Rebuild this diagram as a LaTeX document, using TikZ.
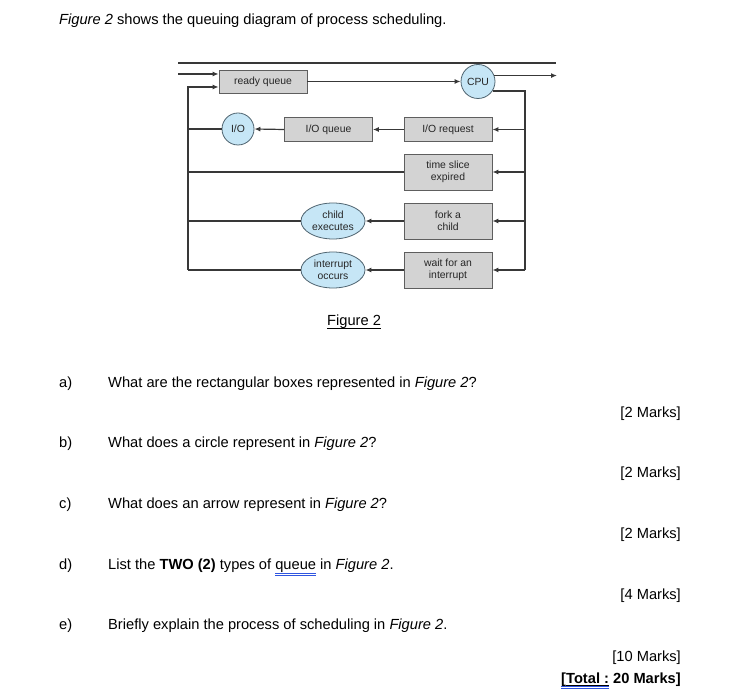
\documentclass[tikz,border=0pt]{standalone}
\usepackage{fontspec}
\setmainfont{Liberation Sans}
\usetikzlibrary{arrows.meta,shapes.geometric}
\definecolor{linec}{HTML}{383838}
\definecolor{boxfill}{HTML}{D3D3D3}
\definecolor{boxline}{HTML}{5E5E5E}
\definecolor{circfill}{HTML}{C6E6F6}
\definecolor{circline}{HTML}{4F6470}
\definecolor{spellblue}{HTML}{2F55E0}
\newcommand{\spellul}[1]{\setbox0\hbox{#1}\leavevmode\rlap{\color{spellblue}\rule[-4pt]{\wd0}{0.7pt}}\rlap{\color{spellblue}\rule[-5.6pt]{\wd0}{0.7pt}}\box0\relax}
\newcommand{\blackul}[1]{\setbox0\hbox{#1}\leavevmode\rlap{\rule[-2.6pt]{\wd0}{0.9pt}}\box0\relax}
\begin{document}
\begin{tikzpicture}[x=1pt,y=-1pt,
  txt/.style={inner sep=0pt,anchor=base west,font=\fontsize{14.67}{17}\selectfont},
  marktxt/.style={inner sep=0pt,anchor=base east,font=\fontsize{14.67}{17}\selectfont},
  dfont/.style={font=\fontsize{10.4}{11.6}\selectfont,text=black!85,align=center},
  qbox/.style={draw=boxline,fill=boxfill,line width=0.8pt,minimum width=88pt,inner sep=0pt,dfont},
  devc/.style={circle,draw=circline,fill=circfill,line width=0.8pt,inner sep=0pt,dfont},
  ell/.style={ellipse,draw=circline,fill=circfill,line width=0.8pt,minimum width=64pt,minimum height=36pt,inner sep=0pt,dfont},
  ln/.style={draw=linec,line width=1.2pt},
  arr/.style={ln,-{Latex[length=6pt,width=5pt]}}]
\useasboundingbox[fill=white] (0,0) rectangle (729,700);

% intro text
\node[txt] (intro) at (59,24.5) {\textit{Figure 2} shows the queuing diagram of process scheduling.};

% diagram nodes
\node[qbox,minimum height=23pt] (rq) at (263,81.5) {ready queue};
\node[devc,minimum size=34pt] (cpu) at (478,81.5) {CPU};
\node[qbox,minimum height=24pt] (ioreq) at (448,129.5) {I/O request};
\node[qbox,minimum height=24pt] (ioq) at (328.5,129.5) {I/O queue};
\node[devc,minimum size=32pt] (io) at (238,129) {I/O};
\node[qbox,minimum height=36pt] (ts) at (448,172) {time slice\\expired};
\node[qbox,minimum height=36pt] (fork) at (448,221) {fork a\\child};
\node[qbox,minimum height=36pt] (wait) at (448,270) {wait for an\\interrupt};
\node[ell] (child) at (333,221) {child\\executes};
\node[ell] (intr) at (333,270) {interrupt\\occurs};

% free ends
\coordinate (topL) at (178,63);
\coordinate (topR) at (556,63);
\coordinate (inL) at (178,74);
\coordinate (outR) at (557,75.7);
\coordinate (lv) at (188,87);
\coordinate (lvb) at (188,270);
\coordinate (rv) at (525,90.7);
\coordinate (rvb) at (525,270);

% connectors
\draw[ln] (topL) -- (topR);
\draw[arr] (inL) -- (inL -| rq.west);
\draw[arr] (lvb |- intr) -- (lv) -- (lv -| rq.west);
\draw[arr] (rq.east) -- (cpu.west);
\draw[arr] (cpu.20) -- (cpu.20 -| outR);
\draw[ln] (cpu.-33) -- (cpu.-33 -| rv) -- (rvb |- wait);
\draw[arr] (rv |- ioreq) -- (ioreq.east);
\draw[arr] (rv |- ts) -- (ts.east);
\draw[arr] (rv |- fork) -- (fork.east);
\draw[arr] (rv |- wait) -- (wait.east);
\draw[arr] (ioreq.west) -- (ioq.east);
\draw[arr] (ioq.west) -- (io.east);
\draw[ln] (io.west) -- (io.west -| lv);
\draw[ln] (ts.west) -- (ts.west -| lv);
\draw[arr] (fork.west) -- (child.east);
\draw[ln] (child.west) -- (child.west -| lv);
\draw[arr] (wait.west) -- (intr.east);
\draw[ln] (intr.west) -- (intr.west -| lv);

% caption
\node[txt] (cap) at (327,326) {\blackul{Figure 2}};

% questions
\node[txt] (la) at (59,388) {a)};
\node[txt] (qa) at (108,388) {What are the rectangular boxes represented in \textit{Figure 2}?};
\node[marktxt] (ma) at (681,418) {[2 Marks]};
\node[txt] (lb) at (59,448) {b)};
\node[txt] (qb) at (108,448) {What does a circle represent in \textit{Figure 2}?};
\node[marktxt] (mb) at (681,478) {[2 Marks]};
\node[txt] (lc) at (59,509) {c)};
\node[txt] (qc) at (108,509) {What does an arrow represent in \textit{Figure 2}?};
\node[marktxt] (mc) at (681,539) {[2 Marks]};
\node[txt] (ld) at (59,570) {d)};
\node[txt] (qd) at (108,570) {List the \textbf{TWO (2)} types of \spellul{queue} in \textit{Figure 2}.};
\node[marktxt] (md) at (681,600) {[4 Marks]};
\node[txt] (le) at (59,630) {e)};
\node[txt] (qe) at (108,630) {Briefly explain the process of scheduling in \textit{Figure 2}.};
\node[marktxt] (me) at (681,661) {[10 Marks]};
\node[marktxt] (tot) at (681,683) {\textbf{\spellul{[\blackul{Total :}} 20 Marks]}};
\end{tikzpicture}
\end{document}
